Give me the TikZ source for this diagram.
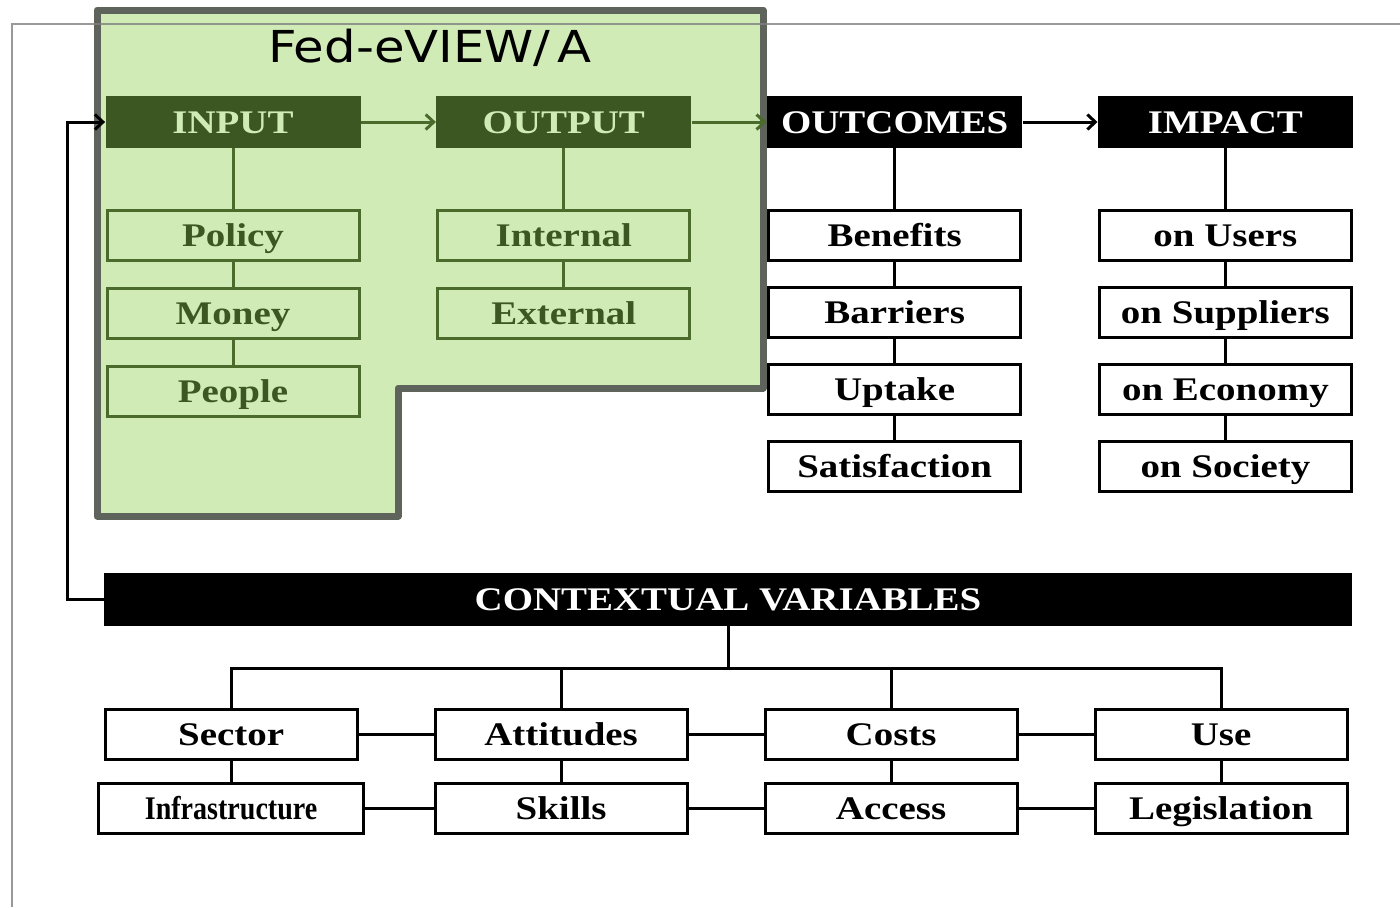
\documentclass[tikz,border=0pt]{standalone}
\usepackage{fontspec}
\usepackage{tikz}
\usetikzlibrary{positioning, arrows.meta, calc}
\newfontfamily\boxfont[FakeStretch=1.18]{Liberation Serif Bold}
\newfontfamily\narrowfont[FakeStretch=0.85]{Liberation Serif Bold}
\newfontfamily\titlefont[FakeStretch=1.13]{DejaVu Sans}
\definecolor{leaf}{HTML}{D1EBB7}
\definecolor{moss}{HTML}{3D5722}
\definecolor{mossline}{HTML}{4B6B2C}
\definecolor{rim}{HTML}{5E635B}
\tikzstyle{grhead}=[%
      rectangle, fill=moss, text=leaf, font=\boxfont\fontsize{16.5}{18}\selectfont,
      text height=11pt, text depth=0pt,
      minimum width=127.5pt, minimum height=26pt, inner sep=0pt
]
\tikzstyle{grbox}=[%
      rectangle, draw=mossline, line width=1.5pt, fill=leaf, text=moss,
      font=\boxfont\fontsize{16.5}{18}\selectfont, text height=11pt, text depth=0pt,
      minimum width=126pt, minimum height=25pt, inner sep=0pt
]
\tikzstyle{bkhead}=[%
      rectangle, fill=black, text=white, font=\boxfont\fontsize{16.5}{18}\selectfont,
      text height=11pt, text depth=0pt,
      minimum width=127.5pt, minimum height=26pt, inner sep=0pt
]
\tikzstyle{bkbox}=[%
      rectangle, draw=black, line width=1.5pt, fill=white,
      font=\boxfont\fontsize{16.5}{18}\selectfont, text height=11pt, text depth=0pt,
      minimum width=126pt, minimum height=25pt, inner sep=0pt
]
\tikzstyle{grline}=[draw=mossline, line width=1.5pt]
\tikzstyle{bkline}=[draw=black, line width=1.5pt]

\begin{document}
\begin{tikzpicture}[x=0.5pt, y=-0.5pt,
    >={Straight Barb[length=4pt,width=7.5pt]}
  ]
    \useasboundingbox (0,0) rectangle (1400,907);
    % green area of the tool
    \draw[draw=rim, fill=leaf, line width=3.5pt, line join=round]
      (97,10) -- (763,10) -- (763,388) -- (398,388) -- (398,516) -- (97,516) -- cycle;
    % page frame
    \draw[gray, opacity=0.8, line width=1pt] (12,907) -- (12,24) -- (1400,24);
    \node[font=\titlefont\fontsize{22}{24}\selectfont] (title) at (430,48) {Fed-eVIEW/\,A};

    % top row
    \node[grhead] (input) at (233,122) {INPUT};
    \node[grhead] (output) [right = 37.5pt of input] {OUTPUT};
    \node[bkhead] (outcomes) [right = 37.5pt of output] {OUTCOMES};
    \node[bkhead] (impact) [right = 37.5pt of outcomes] {IMPACT};

    \node[grbox] (policy) [below = 30.5pt of input] {Policy};
    \node[grbox] (money) [below = 12.5pt of policy] {Money};
    \node[grbox] (people) [below = 12.5pt of money] {People};

    \node[grbox] (internal) [below = 30.5pt of output] {Internal};
    \node[grbox] (external) [below = 12.5pt of internal] {External};

    \node[bkbox] (benefits) [below = 30.5pt of outcomes] {Benefits};
    \node[bkbox] (barriers) [below = 12pt of benefits] {Barriers};
    \node[bkbox] (uptake) [below = 12pt of barriers] {Uptake};
    \node[bkbox] (satisf) [below = 12pt of uptake] {Satisfaction};

    \node[bkbox] (users) [below = 30.5pt of impact] {on Users};
    \node[bkbox] (suppliers) [below = 12pt of users] {on Suppliers};
    \node[bkbox] (economy) [below = 12pt of suppliers] {on Economy};
    \node[bkbox] (society) [below = 12pt of economy] {on Society};

    % context
    \node[bkhead, minimum width=624pt, minimum height=26.5pt] (cv) at (728,599.5) {CONTEXTUAL VARIABLES};
    \node[bkbox, below = 41pt of cv.south west, anchor=north west] (sector) {Sector};
    \node[bkbox] (attitudes) [right = 37.5pt of sector] {Attitudes};
    \node[bkbox] (costs) [right = 37.5pt of attitudes] {Costs};
    \node[bkbox] (use) [right = 37.5pt of costs] {Use};
    \node[bkbox, minimum width=132.5pt, font=\narrowfont\fontsize{16.5}{18}\selectfont] (infra) [below = 10.5pt of sector] {Infrastructure};
    \node[bkbox] (skills) [below = 10.5pt of attitudes] {Skills};
    \node[bkbox] (access) [below = 10.5pt of costs] {Access};
    \node[bkbox] (legis) [below = 10.5pt of use] {Legislation};

    % connectors
    \draw[grline, ->] (input) -- (output);
    \draw[grline, ->] (output) -- (outcomes);
    \draw[bkline, ->] (outcomes) -- (impact);
    \draw[grline] (input) -- (policy) -- (money) -- (people);
    \draw[grline] (output) -- (internal) -- (external);
    \draw[bkline] (outcomes) -- (benefits) -- (barriers) -- (uptake) -- (satisf);
    \draw[bkline] (impact) -- (users) -- (suppliers) -- (economy) -- (society);

    \coordinate (bus) at ($(cv.south)+(0,42)$);
    \coordinate (back) at ($(cv.west)+(-36,0)$);
    \draw[bkline] (cv.south) -- (bus);
    \draw[bkline] (sector.north) |- (bus) -| (use.north);
    \draw[bkline] (attitudes.north) -- (attitudes.north |- bus);
    \draw[bkline] (costs.north) -- (costs.north |- bus);
    \draw[bkline] (sector) -- (attitudes) -- (costs) -- (use);
    \draw[bkline] (infra) -- (skills) -- (access) -- (legis);
    \draw[bkline] (sector) -- (infra);
    \draw[bkline] (attitudes) -- (skills);
    \draw[bkline] (costs) -- (access);
    \draw[bkline] (use) -- (legis);
    \draw[bkline, ->] (cv.west) -- (back) |- (input.west);
  \end{tikzpicture}
\end{document}
